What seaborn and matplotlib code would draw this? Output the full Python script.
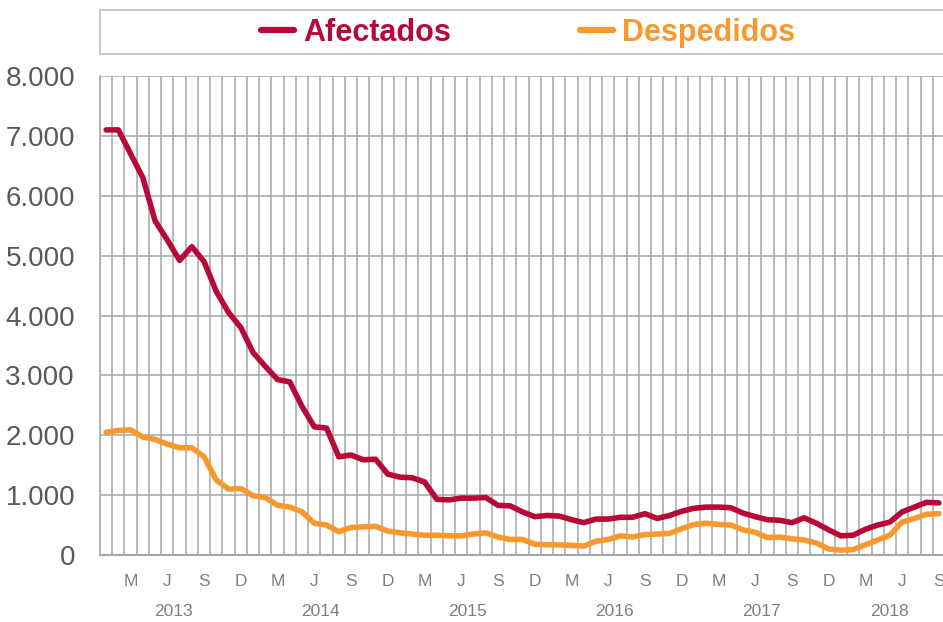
import numpy as np
import pandas as pd
import matplotlib
matplotlib.use("Agg")
import matplotlib.pyplot as plt
import seaborn as sns
from matplotlib.patches import Rectangle
from matplotlib.ticker import FuncFormatter, FixedLocator

# ---- data (monthly, Jan 2013 .. Sep 2018) ----
afectados = [7100, 7100, 6700, 6300, 5580, 5260, 4920, 5150, 4900, 4400, 4050, 3800,
             3380, 3150, 2930, 2890, 2480, 2140, 2120, 1640, 1670, 1590, 1600, 1350,
             1300, 1290, 1220, 930, 920, 950, 950, 960, 830, 820, 720, 640,
             660, 650, 590, 540, 600, 600, 630, 630, 690, 610, 660, 730,
             780, 800, 800, 790, 700, 640, 590, 580, 540, 620, 530, 420,
             320, 330, 430, 500, 550, 720, 800, 880, 870]
despedidos = [2050, 2080, 2090, 1970, 1930, 1850, 1790, 1790, 1640, 1250, 1100, 1110,
              990, 960, 830, 800, 720, 530, 500, 390, 460, 470, 480, 400,
              370, 350, 330, 330, 320, 320, 350, 370, 300, 260, 260, 180,
              170, 170, 160, 150, 230, 260, 320, 300, 340, 350, 360, 440,
              510, 530, 510, 500, 420, 380, 290, 300, 270, 250, 200, 100,
              80, 90, 170, 250, 330, 550, 610, 680, 690]
month_letters = ["E", "F", "M", "A", "M", "J", "J", "A", "S", "O", "N", "D"]
years = ["2013", "2014", "2015", "2016", "2017", "2018"]
series_names = ["Afectados", "Despedidos"]
colors = {"Afectados": "#B70838", "Despedidos": "#F7992F"}

n = len(afectados)
idx = np.arange(n)
df = pd.DataFrame({
    "mes": np.concatenate([idx, idx]),
    "valor": afectados + despedidos,
    "serie": [series_names[0]] * n + [series_names[1]] * n,
})

plt.rcParams["font.family"] = ["Liberation Sans", "DejaVu Sans"]
fig = plt.figure(figsize=(9.43, 6.22), dpi=100)
W, H = 943, 622
ax = fig.add_axes([100 / W, (H - 555) / H, 845 / W, (555 - 76) / H])

sns.lineplot(data=df, x="mes", y="valor", hue="serie", palette=colors,
             linewidth=4.0, ax=ax, legend=False, sort=True)
for ln in ax.lines:
    ln.set_solid_capstyle("round")
    ln.set_solid_joinstyle("round")

ax.set_xlim(-0.5, n - 0.5)
ax.set_ylim(0, 8000)
ax.set_yticks(np.arange(0, 8001, 1000))
ax.yaxis.set_major_formatter(FuncFormatter(lambda v, p: f"{int(v):,}".replace(",", ".")))

# month labels M, J, S, D
pos = [i for i in idx if i % 3 == 2]
ax.set_xticks(pos)
ax.set_xticklabels([month_letters[i % 12] for i in pos])
ax.xaxis.set_minor_locator(FixedLocator(np.arange(-0.5, n, 1.0)))

ax.grid(False)
ax.grid(True, which="minor", axis="x", color="#A6A6A6", linewidth=1.1)
ax.grid(True, which="major", axis="y", color="#A6A6A6", linewidth=1.1)
ax.set_axisbelow(True)
ax.tick_params(axis="both", which="both", length=0)
ax.tick_params(axis="y", labelsize=20, colors="#595959", pad=18)
ax.tick_params(axis="x", labelsize=12.5, labelcolor="#7F7F7F", pad=14)
ax.set_xlabel("")
ax.set_ylabel("")
for s in ["top", "right"]:
    ax.spines[s].set_visible(False)
ax.spines["left"].set_color("#A6A6A6")
ax.spines["left"].set_linewidth(1.1)
ax.spines["bottom"].set_color("#A6A6A6")
ax.spines["bottom"].set_linewidth(1.5)
ax.set_facecolor("white")

# year labels
for k, y in enumerate(years):
    start = k * 12
    end = min(start + 11, n - 1)
    ax.text((start + end) / 2, -0.118, y, transform=ax.get_xaxis_transform(),
            ha="center", va="center", fontsize=12.5, color="#7F7F7F")

# legend box
fig.patches.append(Rectangle((100 / W, (H - 54) / H), 850 / W, 44 / H,
                             transform=fig.transFigure, facecolor="white",
                             edgecolor="#BFBFBF", linewidth=1.2))
handles = [plt.Line2D([], [], color=colors[s], linewidth=4.5, solid_capstyle="round")
           for s in series_names]
leg = fig.legend(handles, series_names, loc="center", ncol=2,
                 bbox_to_anchor=(528 / W, (H - 33) / H), frameon=False,
                 prop={"family": ["Liberation Sans Narrow", "Liberation Sans"],
                       "weight": "bold", "size": 22},
                 handlelength=1.1, handletextpad=0.3, columnspacing=4.2)
for t, s in zip(leg.get_texts(), series_names):
    t.set_color(colors[s])

fig.savefig("out.png", dpi=100, facecolor="white")
